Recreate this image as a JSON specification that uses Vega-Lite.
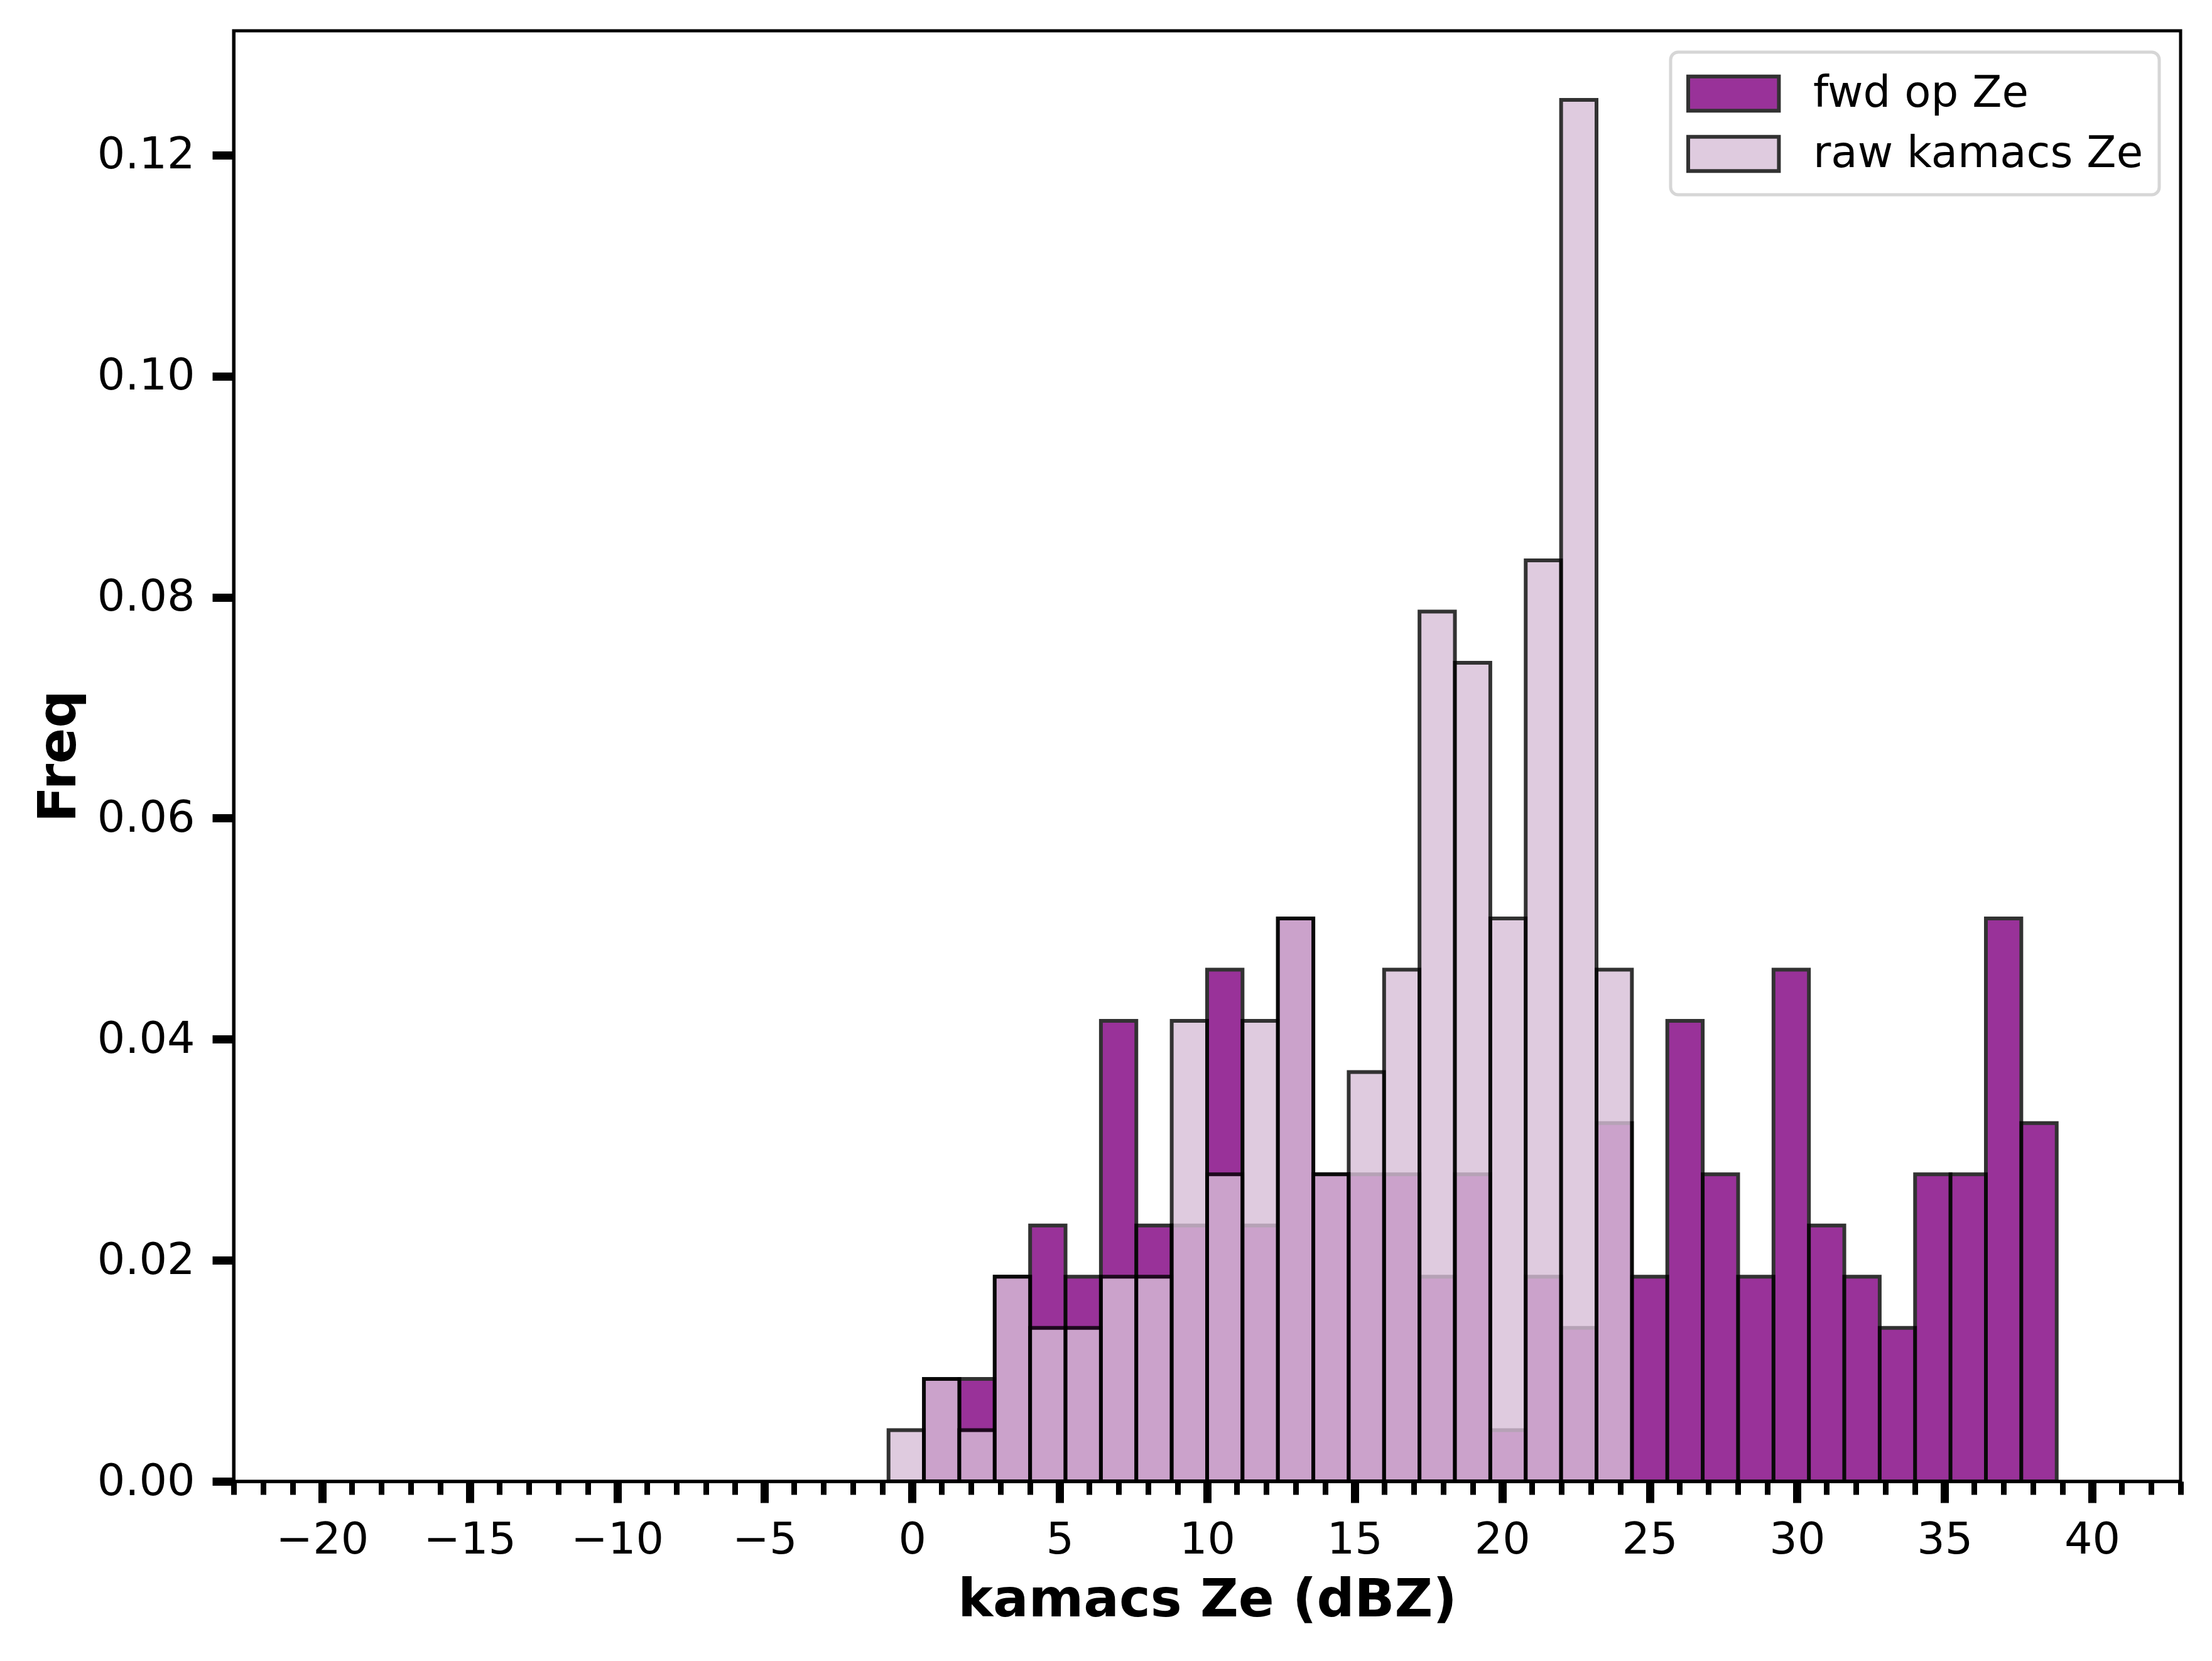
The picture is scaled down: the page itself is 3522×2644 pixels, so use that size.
{
  "$schema": "https://vega.github.io/schema/vega-lite/v6.json",
  "width": 3100,
  "height": 2309,
  "autosize": {"type": "none"},
  "padding": {"left": 372, "top": 49, "right": 50, "bottom": 286},
  "background": "white",
  "config": {
    "font": "DejaVu Sans",
    "view": {"stroke": "black", "strokeWidth": 5},
    "axis": {
      "grid": false,
      "domainColor": "black",
      "tickColor": "black",
      "labelColor": "black",
      "titleColor": "black",
      "labelFont": "DejaVu Sans",
      "titleFont": "DejaVu Sans"
    },
    "legend": {
      "orient": "top-right",
      "offset": 34,
      "padding": 25,
      "fillColor": "white",
      "strokeColor": "#d6d6d6",
      "strokeWidth": 5,
      "cornerRadius": 12,
      "labelFont": "DejaVu Sans",
      "labelFontSize": 69,
      "labelColor": "black",
      "labelLimit": 0,
      "labelOffset": 120,
      "rowPadding": 15,
      "symbolType": "M-1,-0.72H2.8V0.72H-1Z",
      "symbolSize": 5776,
      "symbolStrokeColor": "black",
      "symbolStrokeWidth": 6,
      "symbolOpacity": 0.8
    }
  },
  "data": {
    "values": [
      {"bin_start": 0.4, "bin_end": 1.6, "series": "fwd op Ze", "freq": 0.00926},
      {"bin_start": 1.6, "bin_end": 2.8, "series": "fwd op Ze", "freq": 0.00926},
      {"bin_start": 2.8, "bin_end": 4.0, "series": "fwd op Ze", "freq": 0.01852},
      {"bin_start": 4.0, "bin_end": 5.2, "series": "fwd op Ze", "freq": 0.02315},
      {"bin_start": 5.2, "bin_end": 6.4, "series": "fwd op Ze", "freq": 0.01852},
      {"bin_start": 6.4, "bin_end": 7.6, "series": "fwd op Ze", "freq": 0.04167},
      {"bin_start": 7.6, "bin_end": 8.8, "series": "fwd op Ze", "freq": 0.02315},
      {"bin_start": 8.8, "bin_end": 10.0, "series": "fwd op Ze", "freq": 0.02315},
      {"bin_start": 10.0, "bin_end": 11.2, "series": "fwd op Ze", "freq": 0.0463},
      {"bin_start": 11.2, "bin_end": 12.4, "series": "fwd op Ze", "freq": 0.02315},
      {"bin_start": 12.4, "bin_end": 13.6, "series": "fwd op Ze", "freq": 0.05093},
      {"bin_start": 13.6, "bin_end": 14.8, "series": "fwd op Ze", "freq": 0.02778},
      {"bin_start": 14.8, "bin_end": 16.0, "series": "fwd op Ze", "freq": 0.02778},
      {"bin_start": 16.0, "bin_end": 17.2, "series": "fwd op Ze", "freq": 0.02778},
      {"bin_start": 17.2, "bin_end": 18.4, "series": "fwd op Ze", "freq": 0.01852},
      {"bin_start": 18.4, "bin_end": 19.6, "series": "fwd op Ze", "freq": 0.02778},
      {"bin_start": 19.6, "bin_end": 20.8, "series": "fwd op Ze", "freq": 0.00463},
      {"bin_start": 20.8, "bin_end": 22.0, "series": "fwd op Ze", "freq": 0.01852},
      {"bin_start": 22.0, "bin_end": 23.2, "series": "fwd op Ze", "freq": 0.01389},
      {"bin_start": 23.2, "bin_end": 24.4, "series": "fwd op Ze", "freq": 0.03241},
      {"bin_start": 24.4, "bin_end": 25.6, "series": "fwd op Ze", "freq": 0.01852},
      {"bin_start": 25.6, "bin_end": 26.8, "series": "fwd op Ze", "freq": 0.04167},
      {"bin_start": 26.8, "bin_end": 28.0, "series": "fwd op Ze", "freq": 0.02778},
      {"bin_start": 28.0, "bin_end": 29.2, "series": "fwd op Ze", "freq": 0.01852},
      {"bin_start": 29.2, "bin_end": 30.4, "series": "fwd op Ze", "freq": 0.0463},
      {"bin_start": 30.4, "bin_end": 31.6, "series": "fwd op Ze", "freq": 0.02315},
      {"bin_start": 31.6, "bin_end": 32.8, "series": "fwd op Ze", "freq": 0.01852},
      {"bin_start": 32.8, "bin_end": 34.0, "series": "fwd op Ze", "freq": 0.01389},
      {"bin_start": 34.0, "bin_end": 35.2, "series": "fwd op Ze", "freq": 0.02778},
      {"bin_start": 35.2, "bin_end": 36.4, "series": "fwd op Ze", "freq": 0.02778},
      {"bin_start": 36.4, "bin_end": 37.6, "series": "fwd op Ze", "freq": 0.05093},
      {"bin_start": 37.6, "bin_end": 38.8, "series": "fwd op Ze", "freq": 0.03241},
      {"bin_start": -0.8, "bin_end": 0.4, "series": "raw kamacs Ze", "freq": 0.00463},
      {"bin_start": 0.4, "bin_end": 1.6, "series": "raw kamacs Ze", "freq": 0.00926},
      {"bin_start": 1.6, "bin_end": 2.8, "series": "raw kamacs Ze", "freq": 0.00463},
      {"bin_start": 2.8, "bin_end": 4.0, "series": "raw kamacs Ze", "freq": 0.01852},
      {"bin_start": 4.0, "bin_end": 5.2, "series": "raw kamacs Ze", "freq": 0.01389},
      {"bin_start": 5.2, "bin_end": 6.4, "series": "raw kamacs Ze", "freq": 0.01389},
      {"bin_start": 6.4, "bin_end": 7.6, "series": "raw kamacs Ze", "freq": 0.01852},
      {"bin_start": 7.6, "bin_end": 8.8, "series": "raw kamacs Ze", "freq": 0.01852},
      {"bin_start": 8.8, "bin_end": 10.0, "series": "raw kamacs Ze", "freq": 0.04167},
      {"bin_start": 10.0, "bin_end": 11.2, "series": "raw kamacs Ze", "freq": 0.02778},
      {"bin_start": 11.2, "bin_end": 12.4, "series": "raw kamacs Ze", "freq": 0.04167},
      {"bin_start": 12.4, "bin_end": 13.6, "series": "raw kamacs Ze", "freq": 0.05093},
      {"bin_start": 13.6, "bin_end": 14.8, "series": "raw kamacs Ze", "freq": 0.02778},
      {"bin_start": 14.8, "bin_end": 16.0, "series": "raw kamacs Ze", "freq": 0.03704},
      {"bin_start": 16.0, "bin_end": 17.2, "series": "raw kamacs Ze", "freq": 0.0463},
      {"bin_start": 17.2, "bin_end": 18.4, "series": "raw kamacs Ze", "freq": 0.0787},
      {"bin_start": 18.4, "bin_end": 19.6, "series": "raw kamacs Ze", "freq": 0.07407},
      {"bin_start": 19.6, "bin_end": 20.8, "series": "raw kamacs Ze", "freq": 0.05093},
      {"bin_start": 20.8, "bin_end": 22.0, "series": "raw kamacs Ze", "freq": 0.08333},
      {"bin_start": 22.0, "bin_end": 23.2, "series": "raw kamacs Ze", "freq": 0.125},
      {"bin_start": 23.2, "bin_end": 24.4, "series": "raw kamacs Ze", "freq": 0.0463}
    ]
  },
  "layer": [
    {
      "mark": {"type": "bar", "stroke": "black", "strokeWidth": 6, "opacity": 0.8},
      "encoding": {
        "x": {
          "field": "bin_start",
          "type": "quantitative",
          "scale": {"domain": [-23, 43], "nice": false, "zero": false},
          "axis": {
            "orient": "bottom",
            "values": [-20, -15, -10, -5, 0, 5, 10, 15, 20, 25, 30, 35, 40],
            "format": "d",
            "tickSize": 34,
            "tickWidth": 13,
            "domainWidth": 5,
            "labelFontSize": 70,
            "labelPadding": 25,
            "labelFlush": false,
            "labelOverlap": false,
            "title": "kamacs Ze (dBZ)",
            "titleFontSize": 84,
            "titleFontWeight": "bold",
            "titlePadding": 20
          }
        },
        "x2": {"field": "bin_end"},
        "y": {
          "field": "freq",
          "type": "quantitative",
          "stack": null,
          "scale": {"domain": [0, 0.13125], "nice": false},
          "axis": {
            "values": [0, 0.02, 0.04, 0.06, 0.08, 0.1, 0.12],
            "format": ".2f",
            "tickSize": 34,
            "tickWidth": 13,
            "domainWidth": 5,
            "labelFontSize": 70,
            "labelPadding": 28,
            "title": "Freq",
            "titleFontSize": 84,
            "titleFontWeight": "bold",
            "titlePadding": 35
          }
        },
        "y2": {"datum": 0},
        "color": {
          "field": "series",
          "type": "nominal",
          "scale": {"domain": ["fwd op Ze", "raw kamacs Ze"], "range": ["purple", "thistle"]},
          "legend": {"title": null}
        }
      }
    },
    {
      "mark": {"type": "bar", "opacity": 0},
      "encoding": {
        "x": {
          "field": "bin_start",
          "type": "quantitative",
          "axis": {
            "orient": "bottom",
            "values": [-23, -22, -21, -20, -19, -18, -17, -16, -15, -14, -13, -12, -11, -10, -9, -8, -7, -6, -5, -4, -3, -2, -1, 0, 1, 2, 3, 4, 5, 6, 7, 8, 9, 10, 11, 12, 13, 14, 15, 16, 17, 18, 19, 20, 21, 22, 23, 24, 25, 26, 27, 28, 29, 30, 31, 32, 33, 34, 35, 36, 37, 38, 39, 40, 41, 42, 43],
            "labels": false,
            "domain": false,
            "tickSize": 21,
            "tickWidth": 9,
            "title": null
          }
        },
        "x2": {"field": "bin_end"},
        "y": {"field": "freq", "type": "quantitative", "stack": null},
        "y2": {"datum": 0}
      }
    }
  ],
  "resolve": {"axis": {"x": "independent"}}
}
